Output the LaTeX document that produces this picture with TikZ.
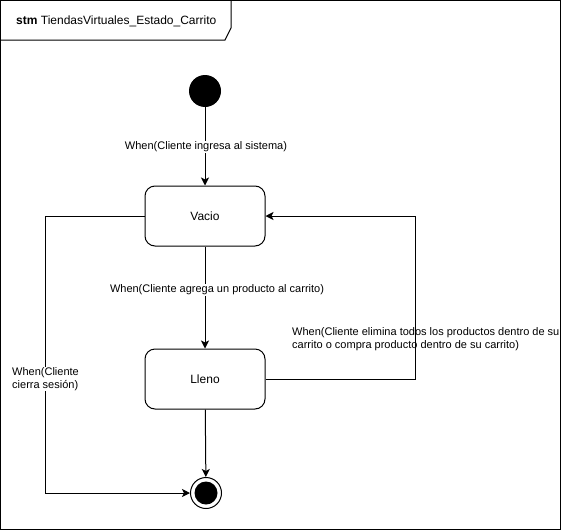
\documentclass[tikz,border=0pt]{standalone}
\usepackage{fontspec}
\setmainfont{Liberation Sans}
\usetikzlibrary{arrows.meta}
\tikzset{
  statebox/.style = {draw,rounded corners=10pt,minimum width=120pt,minimum height=60pt,line width=1pt,font=\fontsize{12}{14}\selectfont},
  trans/.style    = {-{Stealth[length=8pt,width=8pt,inset=2pt]},line width=1pt},
  guard/.style    = {font=\fontsize{11}{12.5}\selectfont,align=left,inner sep=1pt}
}

\begin{document}
\begin{tikzpicture}[x=1pt,y=-1pt]
  \useasboundingbox (0,0) rectangle (561,530);
  \draw[line width=1pt] (0.5,0.5) rectangle (560,529);
  \draw[line width=1pt] (0.5,40) -- (225,40) -- (231,28) -- (231,0.5);
  \node[guard,anchor=west,font=\fontsize{12}{14}\selectfont] (title) at (15,21) {\textbf{stm} TiendasVirtuales\_Estado\_Carrito};

  \node[circle,fill=black,minimum size=32pt,inner sep=0pt] (init) at (205,91) {};
  \node[statebox] (vacio) at (205,216) {Vacio};
  \node[statebox] (lleno) at (205,379) {Lleno};
  \node[circle,draw,line width=1pt,minimum size=31pt,inner sep=0pt] (fin) at (206,493) {};
  \node[circle,fill=black,minimum size=23pt,inner sep=0pt] (fincore) at (fin) {};
  \coordinate (lcorner) at (45,216);
  \coordinate (rcorner) at (415,379);

  \draw[trans] (init) -- (vacio);
  \draw[trans] (vacio) -- (lleno);
  \draw[trans] (lleno) -- (fin);
  \draw[trans] (vacio.west) -- (lcorner) |- (fin);
  \draw[trans] (lleno.east) -- (rcorner) |- (vacio.east);

  \node[guard,fill=white] (g1) at (206,147) {When(Cliente ingresa al sistema)};
  \node[guard,fill=white] (g2) at (217,290) {When(Cliente agrega un producto al carrito)};
  \node[guard,fill=white,anchor=west] (g3) at (11,379) {When(Cliente\\cierra sesión)};
  \node[guard,anchor=west] (g4) at (291,339) {When(Cliente elimina todos los productos dentro de su\\carrito o compra producto dentro de su carrito)};
\end{tikzpicture}
\end{document}
